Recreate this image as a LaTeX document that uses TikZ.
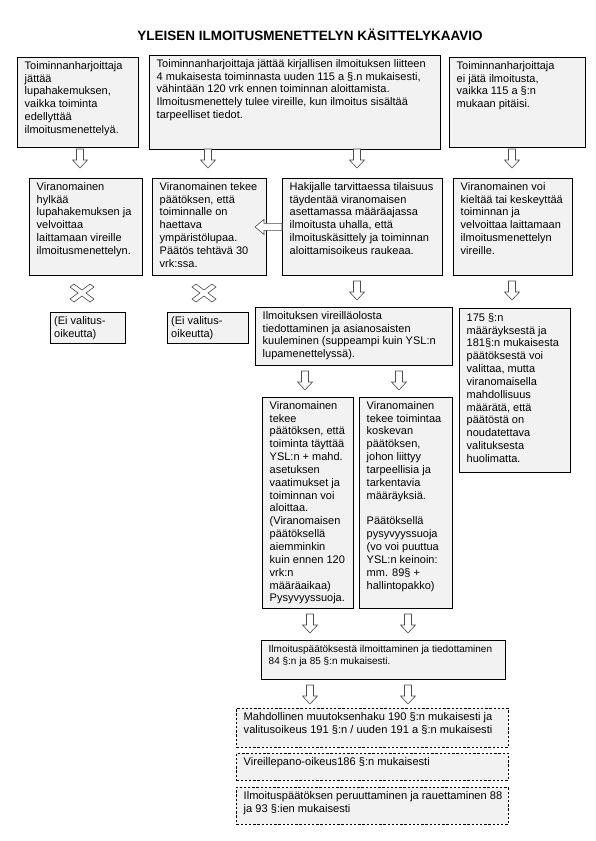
\documentclass[tikz,border=0pt]{standalone}
\usepackage{fontspec}
\setmainfont{Liberation Sans}
\definecolor{boxgray}{HTML}{F2F2F2}
\tikzset{
  box/.style={draw,line width=0.8pt,fill=boxgray,anchor=north west,inner sep=0pt},
  dbox/.style={box,dash pattern=on 2.4pt off 1.8pt},
  txt/.style={anchor=north west,align=left,inner xsep=7.5pt,inner ysep=4pt,font=\fontsize{11}{12.85}\selectfont},
  dtxt/.style={txt,font=\fontsize{11.1}{13.2}\selectfont},
  arrowline/.style={draw=black!70,fill=white,line width=0.6pt},
  pics/darrow/.style={code={\path[arrowline] (-3.5,0) -- (3.5,0) -- (3.5,11) -- (7.5,11) -- (0,19) -- (-7.5,11) -- (-3.5,11) -- cycle;}},
  pics/larrow/.style={code={\path[arrowline] (-27,0) -- (-18,-7.5) -- (-18,-3.5) -- (0,-3.5) -- (0,3.5) -- (-18,3.5) -- (-18,7.5) -- cycle;}},
  pics/xcross/.style={code={\path[arrowline] (-12,-6) -- (-8,-9) -- (0,-3) -- (8,-9) -- (12,-6) -- (4,0) -- (12,6) -- (8,9) -- (0,3) -- (-8,9) -- (-12,6) -- (-4,0) -- cycle;}}
}
\begin{document}
\begin{tikzpicture}[x=1pt,y=-1pt]
\useasboundingbox (0,0) rectangle (595,841);
\node[font=\fontsize{13.5}{16}\selectfont\bfseries] (title) at (310,35) {YLEISEN ILMOITUSMENETTELYN KÄSITTELYKAAVIO};
\node[box,minimum width=121pt,minimum height=90pt] (lupa) at (17,57) {};
\node[txt] (lupa-t) at (lupa.north west) {Toiminnanharjoittaja\\jättää\\lupahakemuksen,\\vaikka toiminta\\edellyttää\\ilmoitusmenettelyä.};
\node[box,minimum width=291pt,minimum height=94pt] (ilm) at (149,55) {};
\node[txt] (ilm-t) at (ilm.north west) {Toiminnanharjoittaja jättää kirjallisen ilmoituksen liitteen\\4 mukaisesta toiminnasta uuden 115 a §.n mukaisesti,\\vähintään 120 vrk ennen toiminnan aloittamista.\\Ilmoitusmenettely tulee vireille, kun ilmoitus sisältää\\tarpeelliset tiedot.};
\node[box,minimum width=136pt,minimum height=90pt] (eiilm) at (449,57) {};
\node[txt] (eiilm-t) at (eiilm.north west) {Toiminnanharjoittaja\\ei jätä ilmoitusta,\\vaikka 115 a §:n\\mukaan pitäisi.};
\pic at (80,149) {darrow};
\pic at (208,149) {darrow};
\pic at (357,149) {darrow};
\pic at (512,149) {darrow};
\node[box,minimum width=113pt,minimum height=97pt] (hylk) at (29,178) {};
\node[txt] (hylk-t) at (hylk.north west) {Viranomainen\\hylkää\\lupahakemuksen ja\\velvoittaa\\laittamaan vireille\\ilmoitusmenettelyn.};
\node[box,minimum width=114pt,minimum height=97pt] (ylupa) at (152,178) {};
\node[txt] (ylupa-t) at (ylupa.north west) {Viranomainen tekee\\päätöksen, että\\toiminnalle on\\haettava\\ympäristölupaa.\\Päätös tehtävä 30\\vrk:ssa.};
\node[box,minimum width=160pt,minimum height=97pt] (tayd) at (282,178) {};
\node[txt] (tayd-t) at (tayd.north west) {Hakijalle tarvittaessa tilaisuus\\täydentää viranomaisen\\asettamassa määräajassa\\ilmoitusta uhalla, että\\ilmoituskäsittely ja toiminnan\\aloittamisoikeus raukeaa.};
\node[box,minimum width=119pt,minimum height=97pt] (kielto) at (453,178) {};
\node[txt] (kielto-t) at (kielto.north west) {Viranomainen voi\\kieltää tai keskeyttää\\toiminnan ja\\velvoittaa laittamaan\\ilmoitusmenettelyn\\vireille.};
\pic at (tayd.west) {larrow};
\pic at (357,281) {darrow};
\pic at (512,281) {darrow};
\pic at (82,293) {xcross};
\pic at (204,293) {xcross};
\node[box,minimum width=75pt,minimum height=31pt] (eival1) at (50,312) {};
\node[txt,inner xsep=4pt] (eival1-t) at (eival1.north west) {(Ei valitus-\\oikeutta)};
\node[box,minimum width=81pt,minimum height=31pt] (eival2) at (167,312) {};
\node[txt,inner xsep=4pt] (eival2-t) at (eival2.north west) {(Ei valitus-\\oikeutta)};
\node[box,minimum width=197pt,minimum height=58pt] (kuul) at (255,307) {};
\node[txt] (kuul-t) at (kuul.north west) {Ilmoituksen vireilläolosta\\tiedottaminen ja asianosaisten\\kuuleminen (suppeampi kuin YSL:n\\lupamenettelyssä).};
\node[box,minimum width=111pt,minimum height=164pt] (valit) at (459,308) {};
\node[txt,inner ysep=5pt] (valit-t) at (valit.north west) {175 §:n\\määräyksestä ja\\181§:n mukaisesta\\päätöksestä voi\\valittaa, mutta\\viranomaisella\\mahdollisuus\\määrätä, että\\päätöstä on\\noudatettava\\valituksesta\\huolimatta.};
\pic at (305,371) {darrow};
\pic at (399,371) {darrow};
\node[box,minimum width=91pt,minimum height=211pt] (tayttaa) at (262,397) {};
\node[txt] (tayttaa-t) at (tayttaa.north west) {Viranomainen\\tekee\\päätöksen, että\\toiminta täyttää\\YSL:n + mahd.\\asetuksen\\vaatimukset ja\\toiminnan voi\\aloittaa.\\(Viranomaisen\\päätöksellä\\aiemminkin\\kuin ennen 120\\vrk:n\\määräaikaa)\\Pysyvyyssuoja.};
\node[box,minimum width=93pt,minimum height=211pt] (maar) at (359,397) {};
\node[txt] (maar-t) at (maar.north west) {Viranomainen\\tekee toimintaa\\koskevan\\päätöksen,\\johon liittyy\\tarpeellisia ja\\tarkentavia\\määräyksiä.\\[12.85pt]Päätöksellä\\pysyvyyssuoja\\(vo voi puuttua\\YSL:n keinoin:\\mm. 89§ +\\hallintopakko)};
\pic at (310,614) {darrow};
\pic at (408,614) {darrow};
\node[box,minimum width=244pt,minimum height=39pt] (tied) at (261,640) {};
\node[txt,font=\fontsize{10}{11.8}\selectfont,inner ysep=5pt] (tied-t) at (tied.north west) {Ilmoituspäätöksestä ilmoittaminen ja tiedottaminen\\84 §:n ja 85 §:n mukaisesti.};
\pic at (310,685) {darrow};
\pic at (408,685) {darrow};
\node[dbox,minimum width=272pt,minimum height=39pt] (muutos) at (236,708) {};
\node[dtxt] (muutos-t) at (muutos.north west) {Mahdollinen muutoksenhaku 190 §:n mukaisesti ja\\valitusoikeus 191 §:n / uuden 191 a §:n mukaisesti};
\node[dbox,minimum width=272pt,minimum height=27pt] (vireille) at (236,753) {};
\node[dtxt] (vireille-t) at (vireille.north west) {Vireillepano-oikeus186 §:n mukaisesti};
\node[dbox,minimum width=272pt,minimum height=37pt] (peru) at (236,787) {};
\node[dtxt] (peru-t) at (peru.north west) {Ilmoituspäätöksen peruuttaminen ja rauettaminen 88\\ja 93 §:ien mukaisesti};
\end{tikzpicture}
\end{document}
